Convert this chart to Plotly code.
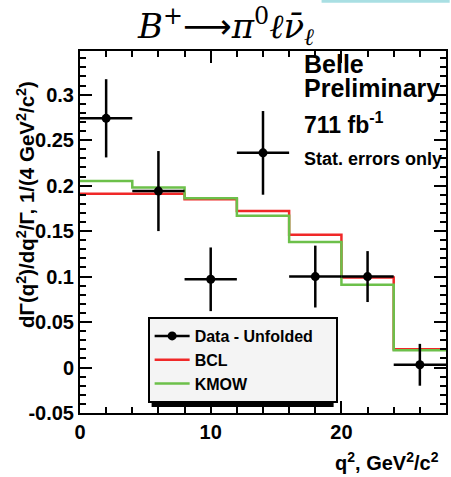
import plotly.graph_objects as go

# ---- data ----
q2_centers = [2, 6, 10, 14, 18, 22, 26]
bin_halfwidth = [2, 2, 2, 2, 2, 2, 2]
data_vals = [0.274, 0.194, 0.097, 0.236, 0.100, 0.100, 0.003]
data_errs = [0.043, 0.044, 0.035, 0.046, 0.034, 0.028, 0.023]
bcl_vals = [0.191, 0.191, 0.185, 0.172, 0.146, 0.099, 0.020]
kmow_vals = [0.205, 0.198, 0.186, 0.167, 0.138, 0.091, 0.019]
y_tickvals = [-0.05, 0, 0.05, 0.1, 0.15, 0.2, 0.25, 0.3]
y_ticktext = ["-0.05", "0", "0.05", "0.1", "0.15", "0.2", "0.25", "0.3"]
x_tickvals = [0, 10, 20]
x_ticktext = ["0", "10", "20"]
legend_names = ["Data - Unfolded", "BCL", "KMOW"]

FONT = "Liberation Sans, Arial, sans-serif"
SERIF = "DejaVu Serif, Liberation Serif, serif"
RED = "#f02828"
GREEN = "#6cc04a"

edges = [c - h for c, h in zip(q2_centers, bin_halfwidth)] + [q2_centers[-1] + bin_halfwidth[-1]]

fig = go.Figure()

fig.add_trace(go.Scatter(x=edges, y=bcl_vals + [bcl_vals[-1]], mode="lines",
                         line=dict(color=RED, width=2.5, shape="hv"),
                         name=legend_names[1], showlegend=False))
fig.add_trace(go.Scatter(x=edges, y=kmow_vals + [kmow_vals[-1]], mode="lines",
                         line=dict(color=GREEN, width=2.5, shape="hv"),
                         name=legend_names[2], showlegend=False))
fig.add_trace(go.Scatter(x=q2_centers, y=data_vals, mode="markers",
                         marker=dict(color="black", size=9),
                         error_x=dict(type="data", array=bin_halfwidth, color="black", thickness=2.5, width=0),
                         error_y=dict(type="data", array=data_errs, color="black", thickness=2.5, width=0),
                         name=legend_names[0], showlegend=False))

# legend entries (padded with no-break spaces to widen the box like the original)
pad = "\u00a0" * 4
fig.add_trace(go.Scatter(x=[None], y=[None], mode="lines+markers",
                         line=dict(color="black", width=2.5), marker=dict(color="black", size=9),
                         name=legend_names[0] + pad))
fig.add_trace(go.Scatter(x=[None], y=[None], mode="lines",
                         line=dict(color=RED, width=2.5), name=legend_names[1]))
fig.add_trace(go.Scatter(x=[None], y=[None], mode="lines",
                         line=dict(color=GREEN, width=2.5), name=legend_names[2]))

axis_common = dict(ticks="inside", tickwidth=2, ticklen=12, tickcolor="black",
                   showline=True, linewidth=2, linecolor="black", mirror="allticks",
                   showgrid=False, zeroline=False,
                   tickfont=dict(family=FONT, size=20, color="black", weight="bold"))

fig.update_xaxes(range=[0, 28], tickvals=x_tickvals, ticktext=x_ticktext,
                 minor=dict(ticks="inside", dtick=2, ticklen=6, tickwidth=2, tickcolor="black", showgrid=False),
                 **axis_common)
fig.update_yaxes(range=[-0.05, 0.348], tickvals=y_tickvals, ticktext=y_ticktext,
                 minor=dict(ticks="inside", dtick=0.01, tick0=0, ticklen=6, tickwidth=2, tickcolor="black", showgrid=False),
                 **axis_common)

def ann(text, x, y, size, xanchor="left", family=FONT, weight="bold", **kw):
    return dict(text=text, x=x, y=y, xref="paper", yref="paper", xanchor=xanchor, yanchor="middle",
                showarrow=False, font=dict(family=family, size=size, color="black", weight=weight), **kw)

title_text = ("<i>B</i><sup>+</sup><span style='font-family:DejaVu Sans'>⟶</span>"
              "<i>π</i><sup>0</sup><i>ℓ</i><i>ν̄</i><sub><i>ℓ</i></sub>")

annotations = [
    ann(title_text, 0.397, 1.068, 34, xanchor="center", family=SERIF, weight="normal"),
    ann("Belle", 0.606, 0.964, 25),
    ann("Preliminary", 0.606, 0.898, 25),
    ann("711 fb<sup>-1</sup>", 0.606, 0.800, 23),
    ann("Stat. errors only", 0.606, 0.703, 18),
    ann("dΓ(q<sup>2</sup>)/dq<sup>2</sup>/Γ, 1/(4 GeV<sup>2</sup>/c<sup>2</sup>)", -0.148, 0.577, 20.5,
        xanchor="center", textangle=-90),
    ann("q<sup>2</sup>, GeV<sup>2</sup>/c<sup>2</sup>", 0.985, -0.135, 20, xanchor="right"),
]

# legend placement (px inside the figure)
LEG_L, LEG_T, LEG_W, LEG_H = 148, 317, 183, 86
plot_l, plot_r, plot_t, plot_b = 80, 448, 51, 413
pw, ph = plot_r - plot_l, plot_b - plot_t
leg_x = (LEG_L - plot_l) / pw
leg_y = (plot_b - LEG_T) / ph

shapes = [
    # legend drop shadow
    dict(type="rect", xref="paper", yref="paper",
         x0=(LEG_L + 4 - plot_l) / pw, x1=(LEG_L + LEG_W + 4 - plot_l) / pw,
         y0=(plot_b - (LEG_T + LEG_H + 4)) / ph, y1=(plot_b - (LEG_T + 4)) / ph,
         fillcolor="black", line=dict(width=0), layer="above"),
    # light strip at top edge
    dict(type="rect", xref="paper", yref="paper", x0=0.66, x1=1.01, y0=1.133, y1=1.145,
         fillcolor="#a9dfe3", line=dict(width=0)),
]

fig.update_layout(
    width=451, height=477,
    margin=dict(l=plot_l, r=451 - plot_r, t=plot_t, b=477 - plot_b),
    paper_bgcolor="white", plot_bgcolor="white",
    annotations=annotations, shapes=shapes,
    legend=dict(x=leg_x, y=leg_y, xanchor="left", yanchor="top",
                bgcolor="#f4f4f4", bordercolor="black", borderwidth=2,
                font=dict(family=FONT, size=16, color="black", weight="bold"),
                tracegroupgap=0, itemwidth=35),
)

fig.write_html("out.html")
